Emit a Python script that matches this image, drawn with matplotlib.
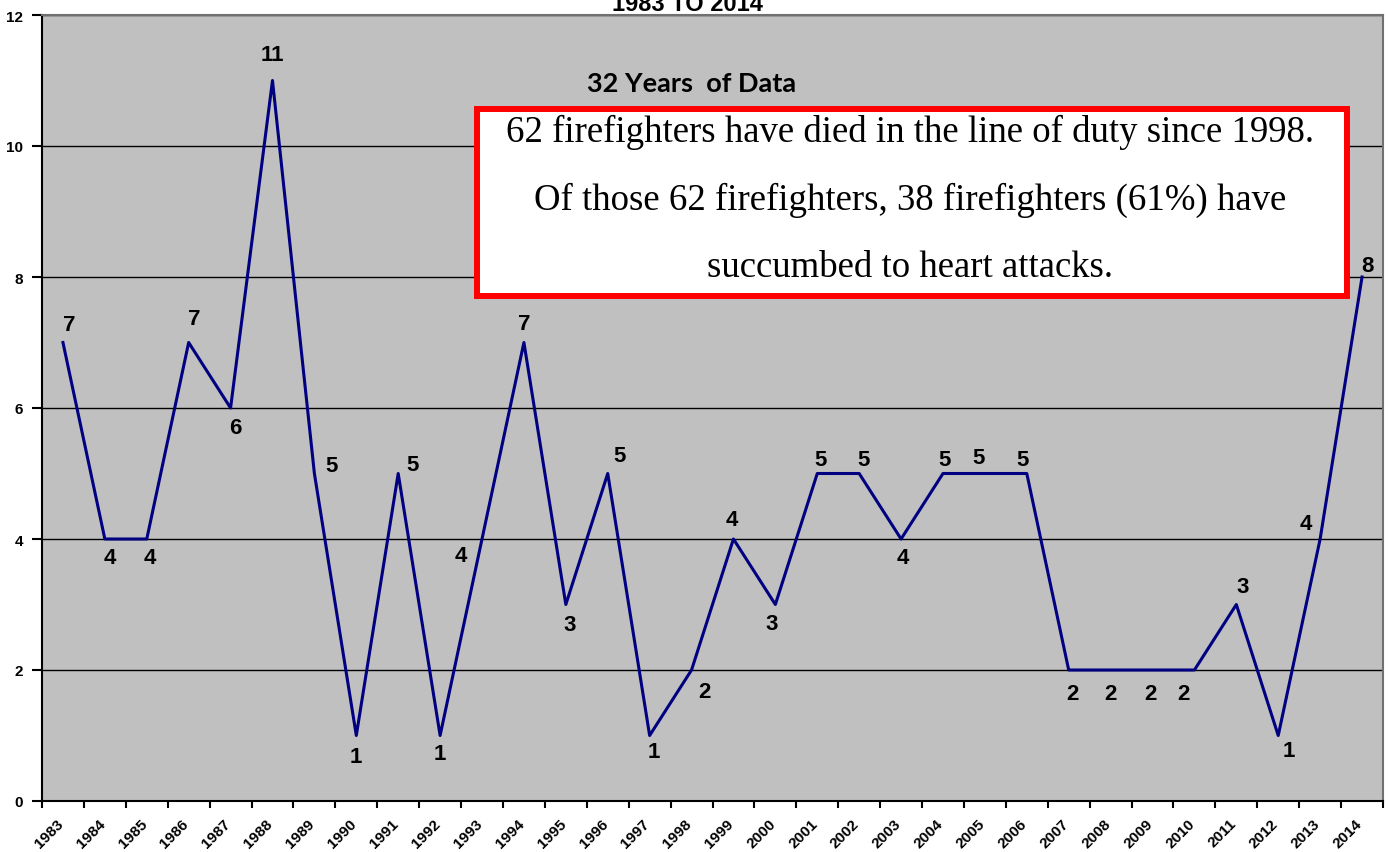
import numpy as np
import matplotlib.pyplot as plt
from matplotlib.patches import Rectangle
from matplotlib.transforms import ScaledTranslation

plt.rcParams['font.family'] = 'Liberation Sans'
plt.rcParams['font.weight'] = 'bold'

years = [str(y) for y in range(1983, 2015)]
deaths = [7, 4, 4, 7, 6, 11, 5, 1, 5, 1, 4, 7, 3, 5, 1, 2,
          4, 3, 5, 5, 4, 5, 5, 5, 2, 2, 2, 2, 3, 1, 4, 8]

# label nudges in pixels (dx, dy), mimicking the excel placement
label_nudge = [(6, 18), (5, -19), (3, -19), (6, 24), (5, -19), (0, 26),
               (17, 8), (0, -21), (14, 9), (0, -18), (-21, -17), (0, 19),
               (4, -20), (12, 18), (4, -16), (13, -22), (-2, 19), (-4, -19),
               (3, 14), (4, 14), (2, -19), (2, 14), (-6, 16), (-4, 14),
               (4, -23), (0, -23), (-2, -23), (-11, -23), (6, 18), (11, -15),
               (-14, 15), (5, 12)]

box_lines = ["62 firefighters have died in the line of duty since 1998.",
             "Of those 62 firefighters, 38 firefighters (61%) have",
             "succumbed to heart attacks."]

W, H = 1388, 853
fig = plt.figure(figsize=(W / 100, H / 100), dpi=100)
ax = fig.add_axes([42 / W, 1 - 802 / H, (1383 - 42) / W, (802 - 16) / H])
ax.set_facecolor('#c0c0c0')

x = np.arange(len(years))
ax.plot(x, deaths, color='#000080', lw=2.2, zorder=3)

for xi, yi, (dx, dy) in zip(x, deaths, label_nudge):
    ax.annotate(str(yi), (xi, yi), xytext=(dx, dy), textcoords='offset pixels',
                ha='center', va='center', fontsize=16, fontweight='bold',
                zorder=4)

ax.set_xlim(-0.5, len(years) - 0.5)
ax.set_ylim(0, 12)
ax.set_yticks(range(0, 13, 2))
ax.yaxis.grid(True, color='black', lw=1)
ax.set_axisbelow(True)

ax.set_xticks(x)
ax.set_xticklabels(years, rotation=45, ha='right', va='top',
                   rotation_mode='anchor')
ax.set_xticks(np.arange(-0.5, len(years)), minor=True)
ax.tick_params(axis='x', which='major', length=0, pad=11, labelsize=11)
ax.tick_params(axis='x', which='minor', length=5, width=1.5)
ax.tick_params(axis='y', length=7, width=1.5, pad=6.5, labelsize=11)

# nudge the slanted year labels left so they end under the point
shift = ScaledTranslation(-0.07, 0, fig.dpi_scale_trans)
for lab in ax.get_xticklabels():
    lab.set_transform(lab.get_transform() + shift)

ax.spines['left'].set_color('black')
ax.spines['bottom'].set_color('black')
ax.spines['left'].set_linewidth(1.5)
ax.spines['bottom'].set_linewidth(1.5)
for s in ['top', 'right']:
    ax.spines[s].set_color('#707070')
    ax.spines[s].set_linewidth(1.5)

# title, partly cut at the top edge as in the original
fig.text(687 / W, 1 - 11 / H, '1983 TO 2014', ha='center', va='baseline',
         fontsize=17, fontweight='bold')

fig.text(692 / W, 1 - 92 / H, '32 Years  of Data', ha='center', va='baseline',
         fontsize=19.5, fontweight='bold', family='Lato')

rect = Rectangle((477 / W, 1 - 297 / H), (1347 - 477) / W, (297 - 110) / H,
                 transform=fig.transFigure, facecolor='white',
                 edgecolor='#ff0000', lw=4.3, zorder=5)
fig.patches.append(rect)

for line, base in zip(box_lines, [142, 210, 277]):
    fig.text(910 / W, 1 - base / H, line, ha='center', va='baseline',
             fontsize=26.5, family='Liberation Serif', fontweight='normal',
             zorder=6)

fig.savefig('out.png', dpi=100)
